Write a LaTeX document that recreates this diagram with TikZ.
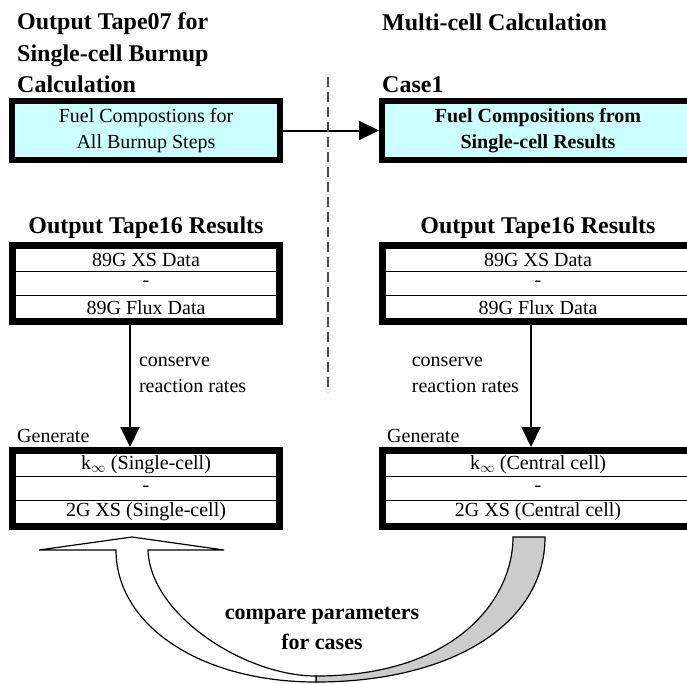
\documentclass[tikz,border=0pt]{standalone}
\usepackage{fontspec}
\setmainfont{Liberation Serif}
\usetikzlibrary{arrows.meta,positioning,fit}

\definecolor{fuelcyan}{RGB}{204,255,255}
\definecolor{backgray}{RGB}{204,204,204}
\newcommand\headtext{\fontsize{24}{31.5}\selectfont\bfseries}
\newcommand\plaintext{\fontsize{20}{26}\selectfont}
\newcommand\boldtext{\fontsize{20}{26}\selectfont\bfseries}
\newcommand\comparetext{\fontsize{22}{30}\selectfont\bfseries}

\tikzset{
  fuelbox/.style={draw, line width=6pt, fill=fuelcyan, align=center, inner sep=0pt, minimum height=59pt},
  datarow/.style={draw, line width=1.2pt, inner sep=0pt, outer sep=0pt, minimum width=#1, minimum height=23.67pt, font=\plaintext},
  dataframe/.style={draw, line width=6pt, inner sep=3pt},
  heading/.style={font=\headtext, inner sep=0pt},
  note/.style={font=\plaintext, inner sep=0pt, align=left},
  flow/.style={line width=2pt, -{Triangle[length=20pt,width=19pt]}},
  band/.style={draw, line width=1.2pt}
}

\begin{document}
\begin{tikzpicture}[x=1pt, y=-1pt]
  \useasboundingbox (0,0) rectangle (687,683);
  \clip (0,0) rectangle (687,683);

  % headings
  \node[heading, anchor=north west, align=left] (titleL) at (17,12.5) {Output Tape07 for\\Single-cell Burnup\\Calculation};
  \node[heading, anchor=base west] (titleR) at (382,30) {Multi-cell Calculation};
  \node[heading, anchor=base west] (case) at (382,92) {Case1};

  % fuel compositions
  \node[fuelbox, minimum width=268pt, font=\plaintext] (fuelL) at (146,130.5) {Fuel Compostions for\\All Burnup Steps};
  \node[fuelbox, minimum width=312pt, font=\boldtext] (fuelR) at (538,130.5) {Fuel Compositions from\\Single-cell Results};
  \draw[flow] (fuelL) -- (fuelR);

  % divider
  \coordinate (divtop) at (328,77);
  \coordinate (divbot) at (328,392);
  \draw[gray!60!black, line width=1.2pt, dash pattern=on 10pt off 5pt] (divtop) -- (divbot);

  % tape16 tables
  \node[heading, anchor=base] (tapeL) at (146,233) {Output Tape16 Results};
  \node[heading, anchor=base] (tapeR) at (538,233) {Output Tape16 Results};
  \node[datarow=262pt] (xsL) at (146,259.83) {89G XS Data};
  \node[datarow=262pt, below=0pt of xsL] (midL) {-};
  \node[datarow=262pt, below=0pt of midL] (fluxL) {89G Flux Data};
  \node[dataframe, fit=(xsL)(fluxL)] (tpL) {};
  \node[datarow=306pt] (xsR) at (538,259.83) {89G XS Data};
  \node[datarow=306pt, below=0pt of xsR] (midR) {-};
  \node[datarow=306pt, below=0pt of midR] (fluxR) {89G Flux Data};
  \node[dataframe, fit=(xsR)(fluxR)] (tpR) {};

  % generated tables
  \node[note, anchor=base west] (genTxtL) at (17,442) {Generate};
  \node[note, anchor=base west] (genTxtR) at (387,442) {Generate};
  \node[datarow=262pt] (kinfL) at (146,464.83) {k$_\infty$ (Single-cell)};
  \node[datarow=262pt, below=0pt of kinfL] (gmidL) {-};
  \node[datarow=262pt, below=0pt of gmidL] (twoL) {2G XS (Single-cell)};
  \node[dataframe, fit=(kinfL)(twoL)] (genL) {};
  \node[datarow=306pt] (kinfR) at (538,464.83) {k$_\infty$ (Central cell)};
  \node[datarow=306pt, below=0pt of kinfR] (gmidR) {-};
  \node[datarow=306pt, below=0pt of gmidR] (twoR) {2G XS (Central cell)};
  \node[dataframe, fit=(kinfR)(twoR)] (genR) {};

  \draw[flow] ([xshift=-16pt]tpL.south) -- node[note, anchor=west, xshift=8pt, pos=0.41] {conserve\\reaction rates} ([xshift=-16pt]genL.north);
  \draw[flow] ([xshift=-7pt]tpR.south) -- node[note, anchor=east, xshift=-11pt, pos=0.41] {conserve\\reaction rates} ([xshift=-7pt]genR.north);

  % comparison arrow
  \draw[band, fill=backgray] (316,676) .. controls (455,676) and (513,600) .. (513,537)
    -- (545,537) .. controls (545,625) and (450,682) .. (316,682) -- cycle;
  \draw[band, fill=white] (116,550) -- (39,550) -- (132,537) -- (224,550) -- (148,550)
    .. controls (150,615) and (245,676) .. (316,676) -- (316,682)
    .. controls (200,682) and (116,625) .. (116,550) -- cycle;
  \node[font=\comparetext, align=center] (compare) at (322,628) {compare parameters\\for cases};
\end{tikzpicture}
\end{document}
